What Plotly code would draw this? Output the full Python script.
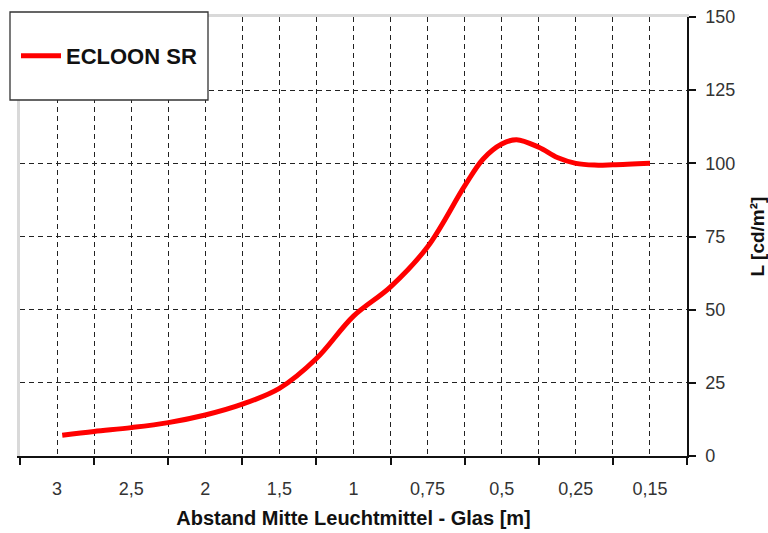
import plotly.graph_objects as go

# category labels along the x axis (distance in m)
categories = ["3", "2,5", "2", "1,5", "1", "0,75", "0,5", "0,25", "0,15"]
# sample positions, in category units (0 = "3", 8 = "0,15")
x_pos = [0.07, 0.5, 1.0, 1.5, 2.0, 2.5, 3.0, 3.5, 4.0, 4.5, 5.0, 5.5, 5.75, 6.0, 6.2, 6.5, 6.75, 7.0, 7.25, 7.5, 8.0]
# luminance L [cd/m²]
lum = [7.1, 8.4, 9.7, 11.4, 14.0, 17.7, 23.1, 33.3, 47.8, 57.8, 71.5, 92.3, 101.5, 106.6, 108.1, 105.5, 102.0, 100.0, 99.4, 99.5, 100.0]
y_ticks = [0, 25, 50, 75, 100, 125, 150]
series_name = "ECLOON SR"

n = len(categories)
xr = [-0.5, n - 0.5]
centers = list(range(n))
boundaries = [i - 0.5 for i in range(n + 1)]
inner_bounds = [i + 0.5 for i in range(n - 1)]
inner_y = y_ticks[1:-1]

FONT = "Liberation Sans, Arial, sans-serif"
GRID = dict(showgrid=True, gridcolor="#222222", griddash="5px,4px", gridwidth=1)

fig = go.Figure()
fig.add_trace(go.Scatter(
    x=x_pos, y=lum, mode="lines", name="<b>" + series_name + "</b>",
    line=dict(color="#ff0000", width=5, shape="spline", smoothing=1.0),
    hoverinfo="skip",
))
# invisible helpers so overlay axes are drawn
fig.add_trace(go.Scatter(x=xr, y=[0, 0], xaxis="x2", yaxis="y", mode="lines",
                         line=dict(width=0), showlegend=False, hoverinfo="skip"))
fig.add_trace(go.Scatter(x=xr, y=[0, 0], xaxis="x3", yaxis="y", mode="lines",
                         line=dict(width=0), showlegend=False, hoverinfo="skip"))
fig.add_trace(go.Scatter(x=xr, y=[0, 0], xaxis="x", yaxis="y2", mode="lines",
                         line=dict(width=0), showlegend=False, hoverinfo="skip"))

fig.update_layout(
    width=768, height=533,
    margin=dict(l=20, r=81, t=17, b=77),
    paper_bgcolor="white", plot_bgcolor="white",
    font=dict(family=FONT, size=18, color="#333333"),
    xaxis=dict(
        range=xr, tickmode="array", tickvals=boundaries, showticklabels=False,
        ticks="outside", ticklen=7, tickwidth=1.5, tickcolor="#111111",
        showline=True, linecolor="#111111", linewidth=1.5,
        showgrid=False, zeroline=False, automargin=False,
    ),
    xaxis2=dict(
        overlaying="x", anchor="y", side="bottom", range=xr,
        tickmode="array", tickvals=centers, ticktext=categories,
        ticks="", ticklabelstandoff=20, showline=False, zeroline=False,
        automargin=False,
        tickfont=dict(size=18, color="#333333"),
        title=dict(text="<b>Abstand Mitte Leuchtmittel - Glas [m]</b>",
                   font=dict(size=20, color="#111111"), standoff=12),
        **GRID,
    ),
    xaxis3=dict(
        overlaying="x", anchor="y", side="top", range=xr,
        tickmode="array", tickvals=inner_bounds, showticklabels=False,
        ticks="", showline=True, linecolor="#d9d9d9", linewidth=3, zeroline=False,
        automargin=False,
        **GRID,
    ),
    yaxis=dict(
        side="right", range=[0, 150], tickmode="array", tickvals=y_ticks,
        ticks="outside", ticklen=7, tickwidth=1.5, tickcolor="#111111",
        ticklabelstandoff=6,
        showline=True, linecolor="#111111", linewidth=1.5,
        showgrid=False, zeroline=False, automargin=False,
        tickfont=dict(size=18, color="#333333"),
        title=dict(text="<b>L [cd/m²]</b>", font=dict(size=19, color="#111111"), standoff=17),
    ),
    yaxis2=dict(
        overlaying="y", anchor="x", side="left", range=[0, 150],
        tickmode="array", tickvals=inner_y, showticklabels=False, ticks="",
        showline=True, linecolor="#d9d9d9", linewidth=3, zeroline=False,
        automargin=False,
        **GRID,
    ),
    showlegend=True,
    legend=dict(
        x=(16 - 20) / 667, xanchor="left", y=(456 - 56) / 439, yanchor="middle",
        bgcolor="rgba(0,0,0,0)", borderwidth=0, itemwidth=40,
        font=dict(family=FONT, size=22, color="#111111"),
    ),
    shapes=[dict(
        type="rect", xref="paper", yref="paper",
        x0=(10 - 20) / 667, x1=(208 - 20) / 667,
        y0=(456 - 100) / 439, y1=(456 - 12) / 439,
        line=dict(color="#333333", width=1.3), fillcolor="white", layer="above",
    )],
)

fig.write_html(
    "out.html",
    config={"displayModeBar": False},
    post_script="document.body.style.margin='0';document.body.style.padding='0';",
)
